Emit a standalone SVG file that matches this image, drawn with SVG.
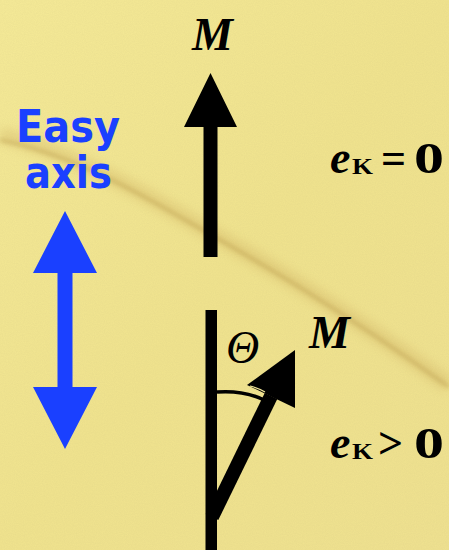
<svg xmlns="http://www.w3.org/2000/svg" width="449" height="550" viewBox="0 0 449 550">
  <style>
    .math { font-family: "Liberation Serif", "Times New Roman", serif; fill: #000; }
    .bi { font-weight: bold; font-style: italic; }
    .b { font-weight: bold; }
    .easy { font-family: "DejaVu Sans", "Liberation Sans", sans-serif; font-weight: bold; fill: #1a40ff; }
    .blue { fill: #1a40ff; }
    .blk { fill: #000; }
  </style>
  <defs>
    <linearGradient id="bg" x1="0" y1="0" x2="1" y2="1">
      <stop offset="0" stop-color="#f6eb98"/>
      <stop offset="0.5" stop-color="#f1e48e"/>
      <stop offset="1" stop-color="#f0e290"/>
    </linearGradient>
    <filter id="blur" x="-20%" y="-20%" width="140%" height="140%">
      <feGaussianBlur stdDeviation="5"/>
    </filter>
    <filter id="blur2" x="-20%" y="-20%" width="140%" height="140%">
      <feGaussianBlur stdDeviation="2"/>
    </filter>
    <filter id="grain" x="0" y="0" width="100%" height="100%">
      <feTurbulence type="fractalNoise" baseFrequency="0.9" numOctaves="2" seed="3"/>
      <feColorMatrix type="matrix" values="0 0 0 0 0.55  0 0 0 0 0.48  0 0 0 0 0.2  0 0 0 0.18 0"/>
    </filter>
  </defs>

  <g id="background">
    <rect width="449" height="550" fill="url(#bg)"/>
    <rect width="449" height="550" filter="url(#grain)"/>
    <path d="M0,135 C60,150 120,180 180,215 C250,255 330,300 449,385" fill="none" stroke="#c9a85a" stroke-width="16" opacity="0.3" filter="url(#blur)"/>
    <path d="M0,140 C60,152 120,182 180,217 C250,257 330,302 449,387" fill="none" stroke="#a07a2a" stroke-width="3" opacity="0.35" filter="url(#blur2)"/>
  </g>

  <g id="easy-axis-label">
    <text class="easy" x="16" y="142" font-size="44" textLength="104" lengthAdjust="spacingAndGlyphs">Easy</text>
    <text class="easy" x="25" y="188" font-size="44" textLength="87" lengthAdjust="spacingAndGlyphs">axis</text>
  </g>

  <g id="easy-axis-arrow">
    <polygon class="blue" points="65,211 97,273 72.5,273 72.5,387 97,387 65,449 33,387 57.5,387 57.5,273 33,273"/>
  </g>

  <g id="M-up">
    <polygon class="blk" points="210.5,73 237,127 217.5,127 217.5,257 203.5,257 203.5,127 184,127"/>
    <text class="math bi" x="192" y="50" font-size="46">M</text>
  </g>

  <g id="eK-zero">
    <text class="math bi" x="330" y="173" font-size="46">e</text>
    <text class="math b" x="352" y="174" font-size="23" textLength="21" lengthAdjust="spacingAndGlyphs">K</text>
    <text class="math b" x="381" y="173" font-size="44">=</text>
    <text class="math b" x="414" y="173" font-size="44" textLength="30" lengthAdjust="spacingAndGlyphs">0</text>
  </g>

  <g id="tilted">
    <rect class="blk" x="205.5" y="310" width="11.5" height="240"/>
    <path d="M217,392 Q245,390 266,401" fill="none" stroke="#000" stroke-width="3.5"/>
    <line x1="212" y1="517" x2="271" y2="396" stroke="#000" stroke-width="14"/>
    <polygon class="blk" points="295,350 295,408 247,385"/>
    <path d="M250,386 Q258,388 265,392" fill="none" stroke="#f4ea9c" stroke-width="1.2"/>
    <text class="math" x="226" y="363" font-size="46" font-style="italic">Θ</text>
    <text class="math bi" x="309" y="348" font-size="46">M</text>
  </g>

  <g id="eK-positive">
    <text class="math bi" x="330" y="458" font-size="46">e</text>
    <text class="math b" x="352" y="459" font-size="23" textLength="21" lengthAdjust="spacingAndGlyphs">K</text>
    <text class="math b" x="378" y="458" font-size="44">&gt;</text>
    <text class="math b" x="414" y="458" font-size="44" textLength="30" lengthAdjust="spacingAndGlyphs">0</text>
  </g>
</svg>
